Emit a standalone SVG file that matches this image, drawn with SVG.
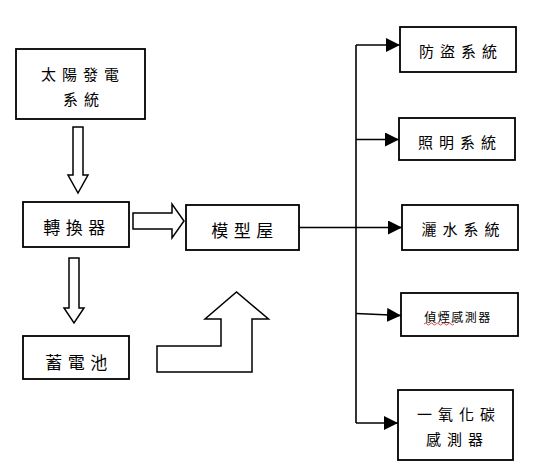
<svg xmlns="http://www.w3.org/2000/svg" width="544" height="476" viewBox="0 0 544 476">
<style>
.box{fill:#fff;stroke:#000;stroke-width:1.8}
.t{font-family:"Noto Sans CJK TC","Noto Sans CJK SC",sans-serif;fill:#000;text-anchor:middle;dominant-baseline:central}
.t15{font-size:15px;letter-spacing:6px}
.t17{font-size:17px;letter-spacing:5.5px}
.t12{font-size:12px;letter-spacing:1.5px}
.hollow{fill:#fff;stroke:#000;stroke-width:1.5;stroke-linejoin:miter}
.conn{fill:none;stroke:#000;stroke-width:1.6}
</style>
<defs>
<marker id="ah" markerUnits="userSpaceOnUse" markerWidth="14" markerHeight="14" refX="14" refY="7" orient="auto">
<path d="M0,0 L14,7 L0,14 Z" fill="#000"/>
</marker>
</defs>
<rect width="544" height="476" fill="#fff"/>

<g id="solar">
<rect class="box" x="16" y="49" width="129" height="70"/>
<text class="t t15" x="83" y="73">太陽發電</text>
<text class="t t15" x="84" y="98">系統</text>
</g>

<g id="converter">
<rect class="box" x="23" y="202" width="106" height="45"/>
<text class="t t17" x="77" y="226.5">轉換器</text>
</g>

<g id="battery">
<rect class="box" x="23" y="336" width="106" height="43"/>
<text class="t t17" x="79" y="361.5">蓄電池</text>
</g>

<g id="house">
<rect class="box" x="186" y="205" width="113" height="45"/>
<text class="t t17" x="245" y="229.5">模型屋</text>
</g>

<g id="antitheft">
<rect class="box" x="400" y="27" width="116" height="45"/>
<text class="t t15" x="461" y="50">防盜系統</text>
</g>

<g id="lighting">
<rect class="box" x="399" y="118" width="116" height="42"/>
<text class="t t15" x="460" y="141.5">照明系統</text>
</g>

<g id="sprinkler">
<rect class="box" x="402" y="205" width="116" height="45"/>
<text class="t t15" x="463.5" y="228">灑水系統</text>
</g>

<g id="smoke">
<rect class="box" x="401" y="293" width="117" height="43"/>
<text class="t t12" x="458" y="316.5">偵煙感測器</text>
<path d="M424,324 q1.5,-2 3,0 t3,0 t3,0 t3,0 t3,0 t3,0 t3,0 t3,0 t3,0 t3,0" fill="none" stroke="#e03030" stroke-width="0.9"/>
</g>

<g id="co">
<rect class="box" x="398" y="390" width="115" height="70"/>
<text class="t t15" x="459" y="413">一氧化碳</text>
<text class="t t15" x="457.5" y="438">感測器</text>
</g>

<g id="connectors">
<polygon class="hollow" points="73,127 83,127 83,175 88,175 78,193 68,175 73,175"/>
<polygon class="hollow" points="69,258 79,258 79,308 84,308 74,323 64,308 69,308"/>
<polygon class="hollow" points="133,213 172,213 172,204 184,221 172,238 172,229 133,229"/>
<polygon class="hollow" points="157,372 157,346 221,346 221,319 205,319 236.5,292 268.5,319 252,319 252,372"/>
<path class="conn" d="M299,227.5 L356,227.5"/>
<path class="conn" d="M356,45 L356,423"/>
<path class="conn" d="M356,45 L400,45" marker-end="url(#ah)"/>
<path class="conn" d="M356,139.5 L399,139.5" marker-end="url(#ah)"/>
<path class="conn" d="M356,227.5 L402,227.5" marker-end="url(#ah)"/>
<path class="conn" d="M356,313.5 L401,315.5" marker-end="url(#ah)"/>
<path class="conn" d="M356,423 L398,423" marker-end="url(#ah)"/>
</g>
</svg>
